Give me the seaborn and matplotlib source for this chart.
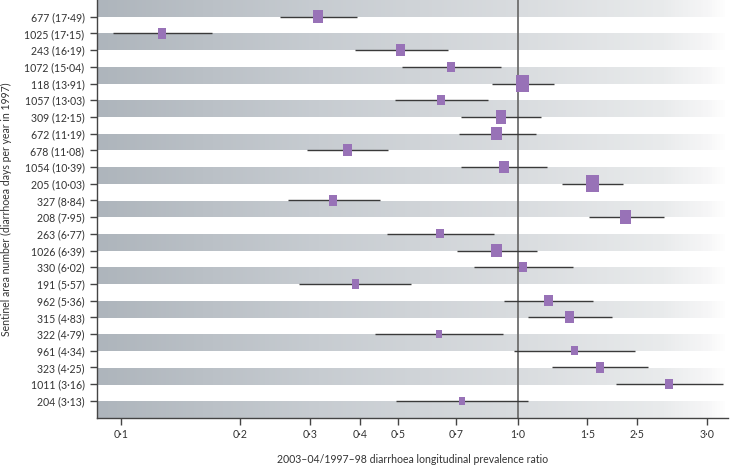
import matplotlib
matplotlib.use("Agg")
import matplotlib.pyplot as plt
from matplotlib.path import Path
from matplotlib.colors import LinearSegmentedColormap
import numpy as np
import pandas as pd
import seaborn as sns

# sentinel areas, ordered by 1997 diarrhoea days per year
areas = [677, 1025, 243, 1072, 118, 1057, 309, 672, 678, 1054, 205, 327,
         208, 263, 1026, 330, 191, 962, 315, 322, 961, 323, 1011, 204]
days_1997 = ["17·49", "17·15", "16·19", "15·04", "13·91", "13·03", "12·15", "11·19",
             "11·08", "10·39", "10·03", "8·84", "7·95", "6·77", "6·39", "6·02",
             "5·57", "5·36", "4·83", "4·79", "4·34", "4·25", "3·16", "3·13"]

# prevalence ratio 2003-04 / 1997-98 with 95% CI
ratio = [0.314, 0.127, 0.507, 0.680, 1.029, 0.642, 0.908, 0.885, 0.372, 0.924, 1.542, 0.343,
         1.867, 0.637, 0.885, 1.033, 0.390, 1.194, 1.349, 0.632, 1.389, 1.612, 2.406, 0.724]
ci_low = [0.252, 0.0957, 0.388, 0.511, 0.861, 0.491, 0.721, 0.711, 0.295, 0.718, 1.296, 0.263,
          1.510, 0.468, 0.704, 0.777, 0.281, 0.924, 1.063, 0.437, 0.980, 1.222, 1.766, 0.495]
ci_high = [0.393, 0.170, 0.667, 0.908, 1.232, 0.843, 1.143, 1.110, 0.471, 1.187, 1.839, 0.449,
           2.342, 0.873, 1.117, 1.376, 0.537, 1.545, 1.732, 0.917, 1.975, 2.127, 3.298, 1.060]
# relative weight of each area (box size)
weight = [10, 8, 9, 8, 13, 8, 10.5, 10.5, 9.3, 9.3, 13, 8.3,
          11, 7.3, 10.7, 7.7, 7.3, 9, 9.3, 6, 7, 8.3, 8, 6.7]

xticks = [0.1, 0.2, 0.3, 0.4, 0.5, 0.7, 1.0, 1.5, 2.0, 3.0]
xtick_labels = ["0·1", "0·2", "0·3", "0·4", "0·5", "0·7", "1·0", "1·5", "2·5", "3·0"]

sns.set_style("ticks")
plt.rcParams["font.family"] = ["Lato", "DejaVu Sans"]

PURPLE = "#9872b7"
TEXT = "#333333"
DPI = 100

fig = plt.figure(figsize=(7.36, 4.66), dpi=DPI)
pos = [0.1318, 0.104, 0.8572, 0.896]

# background bands: grey gradient fading to white on the right
bg = fig.add_axes(pos, zorder=0)
n_rows = len(areas)
n_units = n_rows + 1
cmap = LinearSegmentedColormap.from_list(
    "band", [(0.0, "#aeb5bc"), (0.35, "#c7ccd1"), (0.67, "#d9dcdf"),
             (0.9, "#e9ebec"), (0.97, "#f6f6f7"), (1.0, "#ffffff")])
grad = cmap(np.linspace(0, 1, 600))[:, :3]
img = np.ones((n_units, 600, 3))
img[0::2] = grad
bg.imshow(img, extent=(0, 1, 0, 1), aspect="auto", interpolation="nearest")
bg.set_xlim(0, 1)
bg.set_ylim(0, 1)
bg.axis("off")

ax = fig.add_axes(pos, zorder=1)
ax.patch.set_alpha(0)

df = pd.DataFrame({"row": np.arange(n_rows), "ratio": ratio,
                   "lo": ci_low, "hi": ci_high, "weight": weight})
# box: width/height about 0.78, marker size = height in points
rect = Path([(-0.39, -0.5), (0.39, -0.5), (0.39, 0.5), (-0.39, 0.5), (-0.39, -0.5)],
            [Path.MOVETO, Path.LINETO, Path.LINETO, Path.LINETO, Path.CLOSEPOLY])
px_to_pt = 72 / DPI
df["area"] = (df["weight"] / 0.78 * px_to_pt) ** 2

ax.axvline(1.0, color="#6e6e6e", lw=1.3, zorder=2)
ax.hlines(df["row"], df["lo"], df["hi"], color="#3a3a3a", lw=1.0, zorder=3)
sns.scatterplot(data=df, x="ratio", y="row", size="area",
                sizes=(df["area"].min(), df["area"].max()),
                size_norm=(df["area"].min(), df["area"].max()),
                marker=rect, color=PURPLE, edgecolor="none", linewidth=0,
                legend=False, ax=ax, zorder=4)

ax.set_xscale("log")
ax.set_xlim(0.087, 3.39)
ax.set_ylim(n_rows, -1)
ax.set_xticks(xticks)
ax.set_xticklabels(xtick_labels)
ax.minorticks_off()
ax.set_yticks(range(n_rows))
ax.set_yticklabels([f"{a} ({d})" for a, d in zip(areas, days_1997)])

ax.tick_params(axis="both", length=5, width=1, color="#444444",
               labelsize=7.6, labelcolor=TEXT)
ax.tick_params(axis="y", pad=4)
ax.tick_params(axis="x", pad=3)
sns.despine(ax=ax)
for side in ("left", "bottom"):
    ax.spines[side].set_color("#444444")
    ax.spines[side].set_linewidth(1.0)

ax.set_xlabel("2003–04/1997–98 diarrhoea longitudinal prevalence ratio",
              fontsize=7.6, color=TEXT, labelpad=10)
ax.set_ylabel("Sentinel area number (diarrhoea days per year in 1997)",
              fontsize=7.6, color=TEXT, labelpad=9)

plt.savefig("out.png", dpi=DPI)
plt.close()
